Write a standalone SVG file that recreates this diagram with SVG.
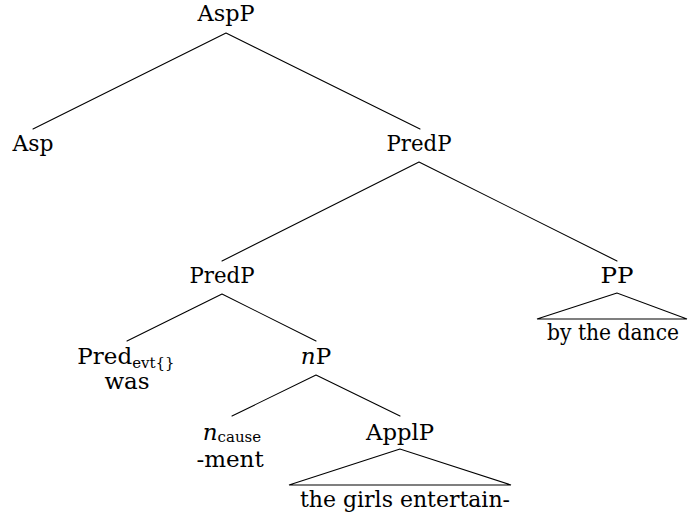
<svg xmlns="http://www.w3.org/2000/svg" width="688" height="518" viewBox="0 0 688 518">
  <style>
    text { font-family: "DejaVu Serif", serif; font-size: 23px; fill: #000; text-anchor: middle; }
    .sub { font-size: 15px; }
    .it { font-style: italic; }
    .edge { stroke: #000; stroke-width: 1.1; fill: none; stroke-linecap: round; }
  </style>
  <rect width="688" height="518" fill="#fff"/>

  <!-- tree branches -->
  <g id="connectors">
    <path class="edge" d="M226 33 L33 129 M226 33 L420 129"/>
    <path class="edge" d="M419 162 L222 261 M419 162 L617 261"/>
    <path class="edge" d="M222 294 L127 341 M222 294 L316 341"/>
    <path class="edge" d="M316 375 L232 416 M316 375 L400 416"/>
    <!-- roofs over unanalysed constituents -->
    <path class="edge" d="M400 449 L289 485 L511 485 Z"/>
    <path class="edge" d="M617 293 L537 319 L687 319 Z"/>
  </g>

  <g id="AspP"><text x="226" y="21" textLength="57" lengthAdjust="spacingAndGlyphs">AspP</text></g>
  <g id="Asp"><text x="33" y="151" textLength="41" lengthAdjust="spacingAndGlyphs">Asp</text></g>
  <g id="PredP-top"><text x="419" y="151" textLength="65" lengthAdjust="spacingAndGlyphs">PredP</text></g>
  <g id="PredP-low"><text x="222" y="283" textLength="65" lengthAdjust="spacingAndGlyphs">PredP</text></g>
  <g id="PP">
    <text x="617" y="283" textLength="33" lengthAdjust="spacingAndGlyphs">PP</text>
    <text x="613" y="340" font-size="20" textLength="132" lengthAdjust="spacingAndGlyphs">by the dance</text>
  </g>
  <g id="Pred">
    <text x="126" y="364"><tspan>Pred</tspan><tspan class="sub" dy="4">evt{}</tspan></text>
    <text x="127" y="389">was</text>
  </g>
  <g id="nP"><text x="316" y="364"><tspan class="it">n</tspan>P</text></g>
  <g id="ncause">
    <text x="232" y="440"><tspan class="it">n</tspan><tspan class="sub" dy="2">cause</tspan></text>
    <text x="230" y="467">-ment</text>
  </g>
  <g id="ApplP">
    <text x="400" y="440" textLength="68" lengthAdjust="spacingAndGlyphs">ApplP</text>
    <text x="405" y="507" textLength="210" lengthAdjust="spacingAndGlyphs">the girls entertain-</text>
  </g>
</svg>
